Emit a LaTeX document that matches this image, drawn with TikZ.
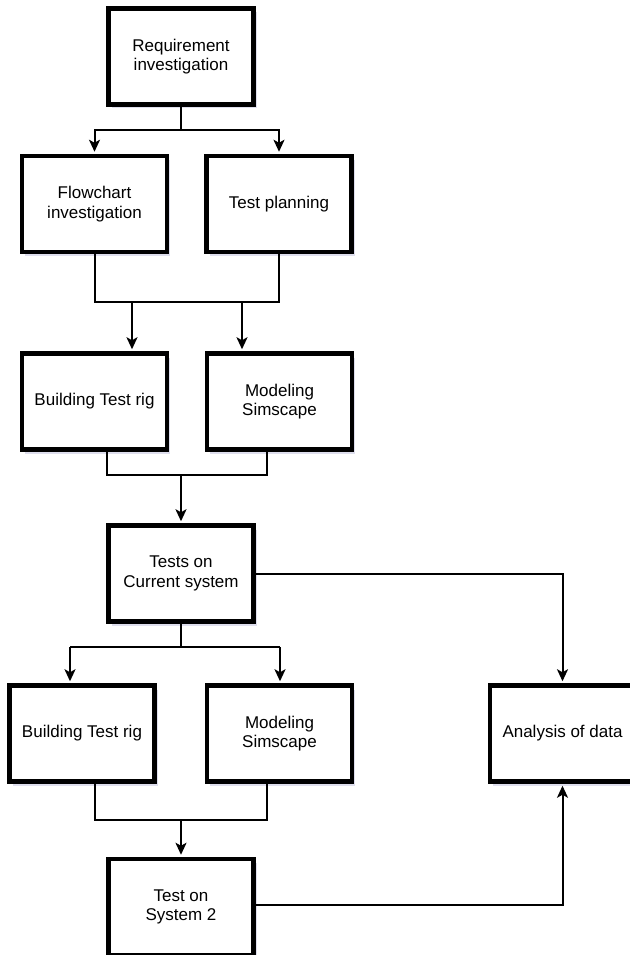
\documentclass[tikz,border=0pt]{standalone}
\usepackage{fontspec}
\setmainfont{Liberation Sans}
\usetikzlibrary{arrows.meta,shadows,calc}
\begin{document}
\begin{tikzpicture}[x=1pt,y=-1pt,
  box/.style={draw=black, line width=4.5pt, fill=white, minimum width=145pt, minimum height=96pt,
    align=center, inner sep=2pt, font=\fontsize{17pt}{19.5pt}\selectfont,
    drop shadow={shadow xshift=3pt, shadow yshift=-4pt, opacity=0.2, fill=blue!30!gray}},
  conn/.style={line width=2pt, line join=miter},
  arr/.style={conn, -{Stealth[length=12pt,width=11pt,inset=3pt]}, shorten >=2pt}]
\useasboundingbox (0,0) rectangle (629,955);
\node[box] (req) at (181,56.5) {Requirement\\investigation};
\node[box] (flow) at (94.5,204) {Flowchart\\investigation};
\node[box] (plan) at (279,204) {Test planning};
\node[box] (build1) at (94.5,401.5) {Building Test rig};
\node[box] (model1) at (279.5,401.5) {Modeling\\Simscape};
\node[box] (tests) at (181,573.5) {Tests on\\Current system};
\node[box] (build2) at (82,733.5) {Building Test rig};
\node[box] (model2) at (279.5,733.5) {Modeling\\Simscape};
\node[box] (ana) at (562.5,733.5) {Analysis of data};
\node[box] (sys2) at (181,907) {Test on\\System 2};
% level 1 split
\coordinate (s1) at (181,130);
\draw[conn] (req.south) -- (s1);
\draw[arr] (s1) -| (flow.north);
\draw[arr] (s1) -| (plan.north);
% level 2 merge/split
\coordinate (m2l) at (95,302);
\coordinate (m2r) at (279,302);
\draw[conn] (flow.south -| m2l) -- (m2l) -- (m2r) -- (plan.south -| m2r);
\draw[arr] (132,302) -- (build1.north -| 132,0);
\draw[arr] (242,302) -- (model1.north -| 242,0);
% level 3 merge
\coordinate (m3l) at (107,475);
\coordinate (m3r) at (267,475);
\draw[conn] (build1.south -| m3l) -- (m3l) -- (m3r) -- (model1.south -| m3r);
\draw[arr] (181,475) -- (tests.north);
% tests split
\coordinate (s4) at (181,647);
\coordinate (s4l) at (70,647);
\coordinate (s4r) at (280,647);
\draw[conn] (tests.south) -- (s4);
\draw[conn] (s4l) -- (s4r);
\draw[arr] (s4l) -- (build2.north -| s4l);
\draw[arr] (s4r) -- (model2.north -| s4r);
% tests to analysis
\coordinate (ta) at (ana.north |- tests.east);
\draw[arr] (tests.east) -- (ta) -- (ana.north);
% level 5 merge
\coordinate (m5l) at (95,820);
\coordinate (m5r) at (267,820);
\draw[conn] (build2.south -| m5l) -- (m5l) -- (m5r) -- (model2.south -| m5r);
\draw[arr] (181,820) -- (sys2.north);
% sys2 to analysis
\coordinate (sa) at (ana.south |- 0,905);
\draw[arr] (sys2.east |- sa) -- (sa) -- (ana.south);
\end{tikzpicture}
\end{document}
